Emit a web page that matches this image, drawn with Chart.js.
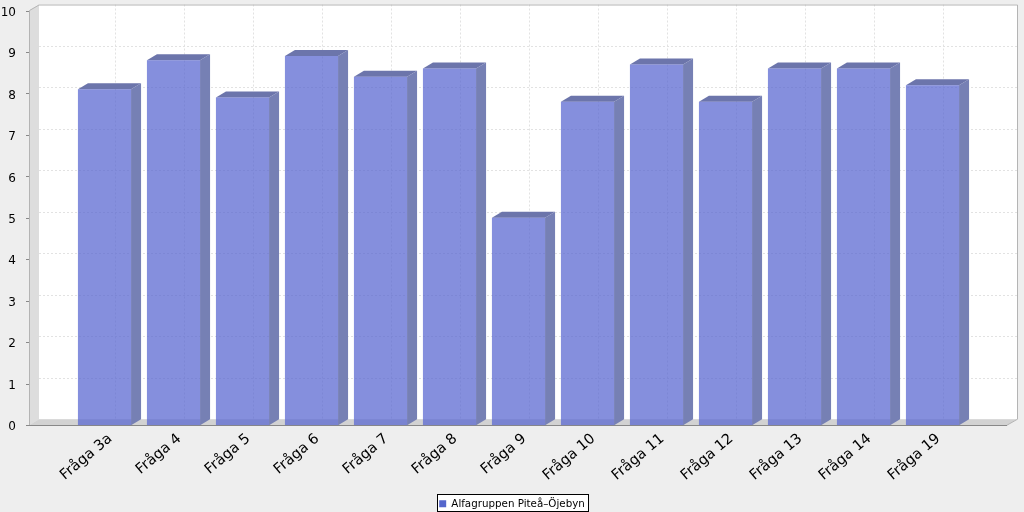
<!DOCTYPE html>
<html>
<head>
<meta charset="utf-8">
<style>
  html, body { margin: 0; padding: 0; background: #eeeeee; }
  canvas { display: block; }
</style>
<script src="https://cdn.jsdelivr.net/npm/chart.js@4"></script>
</head>
<body>
<canvas id="chart" width="1024" height="512"></canvas>
<script>
const categories = ["Fråga 3a", "Fråga 4", "Fråga 5", "Fråga 6", "Fråga 7", "Fråga 8", "Fråga 9",
  "Fråga 10", "Fråga 11", "Fråga 12", "Fråga 13", "Fråga 14", "Fråga 19"];
const values = [8.1, 8.8, 7.9, 8.9, 8.4, 8.6, 5.0, 7.8, 8.7, 7.8, 8.6, 8.6, 8.2];
const seriesName = "Alfagruppen Piteå–Öjebyn";

const FONT = "'DejaVu Sans', sans-serif";
// depth of the fake 3D effect
const DX = 10;
const DY = -6;
// plot floor/wall goes further than the categories do
const FRONT_LEFT = 29;
const FRONT_RIGHT = 1007;

function poly(ctx, pts, fill) {
  ctx.beginPath();
  pts.forEach((p, i) => i ? ctx.lineTo(p[0], p[1]) : ctx.moveTo(p[0], p[1]));
  ctx.closePath();
  ctx.fillStyle = fill;
  ctx.fill();
}

// walls, floor and grid behind the bars
const wallsPlugin = {
  id: "walls",
  // the y labels are clipped to the scale box, so stretch it out to the canvas edge
  afterLayout(chart) {
    chart.scales.y.left = 0;
  },
  beforeDatasetsDraw(chart) {
    const { ctx, scales: { x, y } } = chart;
    const base = y.getPixelForValue(0);
    const top = y.getPixelForValue(10);
    ctx.save();
    poly(ctx, [[FRONT_LEFT + DX, top + DY], [FRONT_RIGHT + DX, top + DY], [FRONT_RIGHT + DX, base + DY], [FRONT_LEFT + DX, base + DY]], "#ffffff");
    poly(ctx, [[FRONT_LEFT, top], [FRONT_LEFT + DX, top + DY], [FRONT_LEFT + DX, base + DY], [FRONT_LEFT, base]], "#dddddd");
    poly(ctx, [[FRONT_LEFT, base], [FRONT_LEFT + DX, base + DY], [FRONT_RIGHT + DX, base + DY], [FRONT_RIGHT, base]], "#d2d2d2");

    ctx.lineWidth = 1;
    ctx.strokeStyle = "#e2e2e2";
    ctx.setLineDash([2, 2]);
    y.ticks.forEach(t => {
      const py = Math.round(y.getPixelForValue(t.value) + DY) + 0.5;
      if (t.value === 0 || t.value === 10) return;
      ctx.beginPath();
      ctx.moveTo(FRONT_LEFT + DX, py);
      ctx.lineTo(FRONT_RIGHT + DX, py);
      ctx.stroke();
    });
    categories.forEach((c, i) => {
      const px = Math.round(x.getPixelForTick(i) + DX) + 0.5;
      ctx.beginPath();
      ctx.moveTo(px, top + DY);
      ctx.lineTo(px, base + DY);
      ctx.stroke();
    });
    ctx.setLineDash([]);

    // outline of the walls
    ctx.strokeStyle = "#b4b4b4";
    ctx.beginPath();
    ctx.moveTo(FRONT_LEFT + 0.5, base);
    ctx.lineTo(FRONT_LEFT + 0.5, top);
    ctx.lineTo(FRONT_LEFT + DX, top + DY + 0.5);
    ctx.lineTo(FRONT_RIGHT + DX + 0.5, top + DY + 0.5);
    ctx.lineTo(FRONT_RIGHT + DX + 0.5, base + DY);
    ctx.lineTo(FRONT_RIGHT, base);
    ctx.stroke();

    // tick marks and axis line
    ctx.strokeStyle = "#888888";
    y.ticks.forEach(t => {
      const py = Math.round(y.getPixelForValue(t.value)) + 0.5;
      ctx.beginPath();
      ctx.moveTo(FRONT_LEFT - 3, py);
      ctx.lineTo(FRONT_LEFT, py);
      ctx.stroke();
    });
    ctx.beginPath();
    ctx.moveTo(FRONT_LEFT, Math.round(base) + 0.5);
    ctx.lineTo(FRONT_RIGHT, Math.round(base) + 0.5);
    ctx.stroke();

    // side and top faces of the bars
    chart.getDatasetMeta(0).data.forEach(bar => {
      const l = bar.x - bar.width / 2;
      const r = bar.x + bar.width / 2;
      poly(ctx, [[r, bar.y], [r + DX, bar.y + DY], [r + DX, base + DY], [r, base]], "#7680b4");
      poly(ctx, [[l, bar.y], [l + DX, bar.y + DY], [r + DX, bar.y + DY], [r, bar.y]], "#6c75ab");
    });
    ctx.restore();
  }
};

// white framed box round the legend
const legendBoxPlugin = {
  id: "legendBox",
  beforeDraw(chart) {
    const { ctx } = chart;
    ctx.save();
    ctx.fillStyle = "#ffffff";
    ctx.strokeStyle = "#000000";
    ctx.lineWidth = 1;
    ctx.fillRect(437.5, 494.5, 151, 17);
    ctx.strokeRect(437.5, 494.5, 151, 17);
    ctx.restore();
  }
};

new Chart(document.getElementById("chart"), {
  type: "bar",
  data: {
    labels: categories,
    datasets: [{
      label: seriesName,
      data: values,
      backgroundColor: "rgba(88,102,208,0.73)",
      barPercentage: 0.77,
      categoryPercentage: 1
    }]
  },
  plugins: [wallsPlugin, legendBoxPlugin],
  options: {
    responsive: false,
    animation: false,
    layout: { padding: { top: 10.5, right: 57, bottom: -7, left: 57 } },
    plugins: {
      tooltip: { enabled: false },
      legend: {
        position: "bottom",
        labels: {
          boxWidth: 7,
          boxHeight: 7,
          padding: 4,
          color: "#000000",
          font: { family: FONT, size: 10.3 },
          generateLabels: chart => [{
            text: seriesName,
            fillStyle: "#5566cc",
            strokeStyle: "#5566cc",
            lineWidth: 0,
            datasetIndex: 0
          }]
        }
      }
    },
    scales: {
      x: {
        grid: { display: false },
        border: { display: false },
        afterFit: s => { s.height = 69.5; },
        ticks: {
          autoSkip: false,
          minRotation: 40,
          maxRotation: 40,
          padding: -3,
          labelOffset: 6,
          color: "#000000",
          font: { family: FONT, size: 14.5 }
        }
      },
      y: {
        min: 0,
        max: 10,
        grid: { display: false },
        border: { display: false },
        afterFit: s => { s.width = 13; s.paddingTop = 0; s.paddingBottom = 0; },
        ticks: {
          stepSize: 1,
          padding: 46,
          labelOffset: 2,
          color: "#000000",
          font: { family: FONT, size: 12 }
        }
      }
    }
  }
});
</script>
</body>
</html>
